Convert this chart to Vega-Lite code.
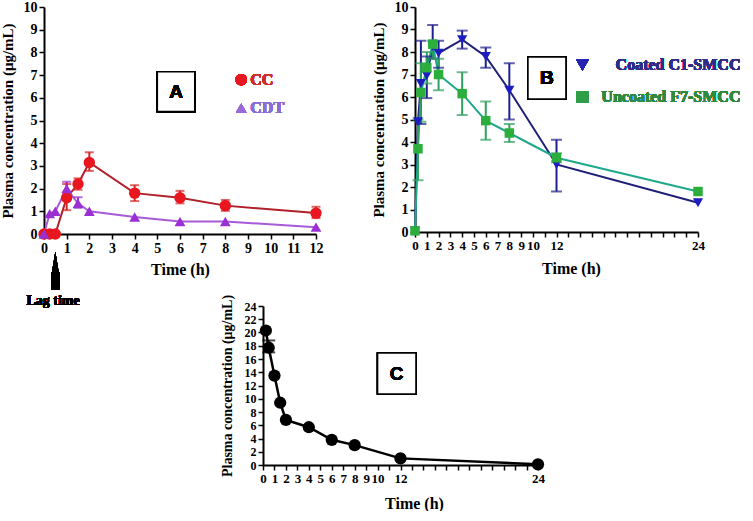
{
  "$schema": "https://vega.github.io/schema/vega-lite/v6.json",
  "background": "white",
  "padding": {"left": 0, "top": 0, "right": 0, "bottom": 0},
  "autosize": {"type": "pad"},
  "config": {
    "view": {"stroke": null},
    "axis": {"domainColor": "black", "domainWidth": 2, "tickColor": "black", "tickWidth": 1.5, "tickSize": 5, "grid": false,
      "labelFont": "Liberation Serif", "labelFontWeight": "bold", "labelFontSize": 14, "labelColor": "black",
      "titleFont": "Liberation Serif", "titleFontWeight": "bold", "titleFontSize": 15, "titleColor": "black",
      "labelOverlap": false, "labelFlush": false, "labelPadding": 2}
  },
  "datasets": {
    "A": [
      {"t": 0, "conc": 0, "series": "CC"},
      {"t": 0.25, "conc": 0, "series": "CC"},
      {"t": 0.5, "conc": 0, "series": "CC"},
      {"t": 1, "conc": 1.6, "lo": 1.05, "hi": 2.2, "series": "CC"},
      {"t": 1.5, "conc": 2.2, "lo": 1.95, "hi": 2.45, "series": "CC"},
      {"t": 2, "conc": 3.15, "lo": 2.78, "hi": 3.6, "series": "CC"},
      {"t": 4, "conc": 1.8, "lo": 1.45, "hi": 2.15, "series": "CC"},
      {"t": 6, "conc": 1.6, "lo": 1.35, "hi": 1.9, "series": "CC"},
      {"t": 8, "conc": 1.25, "lo": 1.02, "hi": 1.5, "series": "CC"},
      {"t": 12, "conc": 0.92, "lo": 0.7, "hi": 1.2, "series": "CC"},
      {"t": 0, "conc": 0, "series": "CDT"},
      {"t": 0.25, "conc": 0.9, "series": "CDT"},
      {"t": 0.5, "conc": 1.0, "series": "CDT"},
      {"t": 1, "conc": 2.0, "lo": 1.75, "hi": 2.3, "series": "CDT"},
      {"t": 1.5, "conc": 1.35, "lo": 1.15, "hi": 1.62, "series": "CDT"},
      {"t": 2, "conc": 1.0, "series": "CDT"},
      {"t": 4, "conc": 0.75, "series": "CDT"},
      {"t": 6, "conc": 0.55, "series": "CDT"},
      {"t": 8, "conc": 0.55, "series": "CDT"},
      {"t": 12, "conc": 0.3, "series": "CDT"}
    ],
    "B": [
      {"t": 0, "conc": 0.05, "series": "Coated C1-SMCC"},
      {"t": 0.25, "conc": 4.9, "series": "Coated C1-SMCC"},
      {"t": 0.5, "conc": 6.6, "lo": 4.8, "hi": 8.5, "series": "Coated C1-SMCC"},
      {"t": 1, "conc": 6.95, "lo": 5.95, "hi": 7.8, "series": "Coated C1-SMCC"},
      {"t": 1.5, "conc": 8.25, "lo": 7.7, "hi": 9.2, "series": "Coated C1-SMCC"},
      {"t": 2, "conc": 7.95, "lo": 7.3, "hi": 8.5, "series": "Coated C1-SMCC"},
      {"t": 4, "conc": 8.55, "lo": 8.15, "hi": 8.95, "series": "Coated C1-SMCC"},
      {"t": 6, "conc": 7.8, "lo": 7.3, "hi": 8.2, "series": "Coated C1-SMCC"},
      {"t": 8, "conc": 6.3, "lo": 5.0, "hi": 7.5, "series": "Coated C1-SMCC"},
      {"t": 12, "conc": 3.0, "lo": 1.8, "hi": 4.1, "series": "Coated C1-SMCC"},
      {"t": 24, "conc": 1.3, "series": "Coated C1-SMCC"},
      {"t": 0, "conc": 0.05, "series": "Uncoated F7-SMCC"},
      {"t": 0.25, "conc": 3.7, "lo": 2.3, "hi": 5.0, "series": "Uncoated F7-SMCC"},
      {"t": 0.5, "conc": 6.2, "lo": 4.9, "hi": 7.5, "series": "Uncoated F7-SMCC"},
      {"t": 1, "conc": 7.3, "lo": 6.6, "hi": 8.0, "series": "Uncoated F7-SMCC"},
      {"t": 1.5, "conc": 8.35, "lo": 7.7, "hi": 8.5, "series": "Uncoated F7-SMCC"},
      {"t": 2, "conc": 7.0, "lo": 6.3, "hi": 7.7, "series": "Uncoated F7-SMCC"},
      {"t": 4, "conc": 6.15, "lo": 5.2, "hi": 7.1, "series": "Uncoated F7-SMCC"},
      {"t": 6, "conc": 4.95, "lo": 4.1, "hi": 5.8, "series": "Uncoated F7-SMCC"},
      {"t": 8, "conc": 4.4, "lo": 4.0, "hi": 4.8, "series": "Uncoated F7-SMCC"},
      {"t": 12, "conc": 3.3, "lo": 3.1, "hi": 3.5, "series": "Uncoated F7-SMCC"},
      {"t": 24, "conc": 1.8, "series": "Uncoated F7-SMCC"}
    ],
    "C": [
      {"t": 0.25, "conc": 20.3},
      {"t": 0.5, "conc": 17.7, "lo": 17.0, "hi": 18.8},
      {"t": 1, "conc": 13.5},
      {"t": 1.5, "conc": 9.4},
      {"t": 2, "conc": 6.8},
      {"t": 4, "conc": 5.7},
      {"t": 6, "conc": 3.8},
      {"t": 8, "conc": 3.0},
      {"t": 12, "conc": 1.0},
      {"t": 24, "conc": 0.1}
    ]
  },
  "bounds": "flush",
  "spacing": 299,
  "vconcat": [
    {
      "bounds": "flush",
      "spacing": 99,
      "hconcat": [
        {
          "width": 272, "height": 227,
          "data": {"name": "A"},
          "resolve": {"scale": {"color": "independent", "shape": "independent"}},
          "encoding": {
            "x": {"field": "t", "type": "quantitative", "scale": {"domain": [0, 12], "nice": false},
              "axis": {"values": [0,1,2,3,4,5,6,7,8,9,10,11,12], "title": "Time (h)", "titleFontSize": 16, "titlePadding": 6}},
            "y": {"field": "conc", "type": "quantitative", "scale": {"domain": [0, 10], "nice": false},
              "axis": {"values": [0,1,2,3,4,5,6,7,8,9,10], "title": "Plasma concentration (μg/mL)", "titlePadding": 8}}
          },
          "layer": [
            {"mark": {"type": "line", "strokeWidth": 2},
             "encoding": {"color": {"field": "series", "type": "nominal", "scale": {"domain": ["CC", "CDT"], "range": ["#b0202a", "#a85ad8"]}, "legend": null}}},
            {"transform": [{"filter": "datum.lo != null"}],
             "mark": {"type": "rule", "strokeWidth": 2},
             "encoding": {"y": {"field": "lo", "type": "quantitative"}, "y2": {"field": "hi"},
               "color": {"field": "series", "type": "nominal", "scale": {"domain": ["CC", "CDT"], "range": ["#d42424", "#9a32d0"]}, "legend": null}}},
            {"transform": [{"filter": "datum.lo != null"}, {"fold": ["lo", "hi"], "as": ["k", "v"]}],
             "mark": {"type": "tick", "orient": "horizontal", "size": 9, "thickness": 2},
             "encoding": {"y": {"field": "v", "type": "quantitative"},
               "color": {"field": "series", "type": "nominal", "scale": {"domain": ["CC", "CDT"], "range": ["#d42424", "#9a32d0"]}, "legend": null}}},
            {"mark": {"type": "point", "filled": true, "opacity": 1},
             "encoding": {
               "color": {"field": "series", "type": "nominal", "scale": {"domain": ["CC", "CDT"], "range": ["#e8161e", "#9a30d4"]}, "legend": null},
               "shape": {"field": "series", "type": "nominal", "scale": {"domain": ["CC", "CDT"], "range": ["circle", "triangle-up"]}, "legend": null},
               "size": {"field": "series", "type": "nominal", "scale": {"domain": ["CC", "CDT"], "range": [130, 90]}, "legend": null}}},
            {"mark": {"type": "rect", "fill": "white", "stroke": "black", "strokeWidth": 1.5},
             "encoding": {"x": {"datum": 5.0, "type": "quantitative"}, "x2": {"datum": 6.65}, "y": {"datum": 5.4, "type": "quantitative"}, "y2": {"datum": 7.15}}},
            {"mark": {"type": "text", "text": "A", "font": "Liberation Sans", "fontWeight": "bold", "fontSize": 19, "color": "black", "baseline": "middle", "align": "center"},
             "encoding": {"x": {"datum": 5.825, "type": "quantitative"}, "y": {"datum": 6.27, "type": "quantitative"}}},
            {"mark": {"type": "point", "shape": "circle", "filled": true, "opacity": 1, "color": "#e8161e", "size": 130},
             "encoding": {"x": {"datum": 8.7, "type": "quantitative"}, "y": {"datum": 6.8, "type": "quantitative"}}},
            {"mark": {"type": "point", "shape": "triangle-up", "filled": true, "opacity": 1, "color": "#9a6ad8", "size": 110},
             "encoding": {"x": {"datum": 8.7, "type": "quantitative"}, "y": {"datum": 5.55, "type": "quantitative"}}},
            {"mark": {"type": "text", "text": "CC", "font": "Liberation Serif", "fontWeight": "bold", "fontSize": 16, "color": "#d02a2a", "baseline": "middle", "align": "left"},
             "encoding": {"x": {"datum": 9.1, "type": "quantitative"}, "y": {"datum": 6.8, "type": "quantitative"}}},
            {"mark": {"type": "text", "text": "CDT", "font": "Liberation Serif", "fontWeight": "bold", "fontSize": 16, "color": "#8a6ed4", "baseline": "middle", "align": "left"},
             "encoding": {"x": {"datum": 9.1, "type": "quantitative"}, "y": {"datum": 5.55, "type": "quantitative"}}},
            {"mark": {"type": "rule", "strokeWidth": 8, "color": "black"},
             "encoding": {"x": {"datum": 0.5, "type": "quantitative"}, "y": {"datum": -1.7, "type": "quantitative"}, "y2": {"datum": -2.45}}},
            {"mark": {"type": "point", "shape": "M-0.33,1L0,-1L0.33,1Z", "filled": true, "opacity": 1, "color": "black", "size": 529},
             "encoding": {"x": {"datum": 0.5, "type": "quantitative"}, "y": {"datum": -1.3, "type": "quantitative"}}},
            {"mark": {"type": "text", "text": "Lag time", "font": "Liberation Serif", "fontWeight": "bold", "fontSize": 14, "color": "black", "baseline": "middle", "align": "center"},
             "encoding": {"x": {"datum": 0.4, "type": "quantitative"}, "y": {"datum": -2.95, "type": "quantitative"}}}
          ]
        },
        {
          "width": 283, "height": 225,
          "data": {"name": "B"},
          "resolve": {"scale": {"color": "independent", "shape": "independent"}},
          "encoding": {
            "x": {"field": "t", "type": "quantitative", "scale": {"domain": [0, 24], "nice": false},
              "axis": {"values": [0,1,2,3,4,5,6,7,8,9,10,11,12,13,14,15,16,17,18,19,20,21,22,23,24],
                "labelExpr": "(datum.value <= 10 || datum.value == 12 || datum.value == 24) ? datum.label : ''",
                "labelFontSize": 13, "title": "Time (h)", "titleFontSize": 16, "titlePadding": 8, "titleX": 156}},
            "y": {"field": "conc", "type": "quantitative", "scale": {"domain": [0, 10], "nice": false},
              "axis": {"values": [0,1,2,3,4,5,6,7,8,9,10], "title": "Plasma concentration (μg/mL)", "titlePadding": 8}}
          },
          "layer": [
            {"mark": {"type": "line", "strokeWidth": 2},
             "encoding": {"color": {"field": "series", "type": "nominal", "scale": {"domain": ["Coated C1-SMCC", "Uncoated F7-SMCC"], "range": ["#1f1f7a", "#1fa88a"]}, "legend": null}}},
            {"transform": [{"filter": "datum.lo != null"}],
             "mark": {"type": "rule", "strokeWidth": 2},
             "encoding": {"y": {"field": "lo", "type": "quantitative"}, "y2": {"field": "hi"},
               "color": {"field": "series", "type": "nominal", "scale": {"domain": ["Coated C1-SMCC", "Uncoated F7-SMCC"], "range": ["#1f2090", "#2ea060"]}, "legend": null}}},
            {"transform": [{"filter": "datum.lo != null"}, {"fold": ["lo", "hi"], "as": ["k", "v"]}],
             "mark": {"type": "tick", "orient": "horizontal", "size": 11, "thickness": 2},
             "encoding": {"y": {"field": "v", "type": "quantitative"},
               "color": {"field": "series", "type": "nominal", "scale": {"domain": ["Coated C1-SMCC", "Uncoated F7-SMCC"], "range": ["#1f2090", "#2ea060"]}, "legend": null}}},
            {"mark": {"type": "point", "filled": true, "opacity": 1},
             "encoding": {
               "color": {"field": "series", "type": "nominal", "scale": {"domain": ["Coated C1-SMCC", "Uncoated F7-SMCC"], "range": ["#1c1cc0", "#2cae3c"]}, "legend": null},
               "shape": {"field": "series", "type": "nominal", "scale": {"domain": ["Coated C1-SMCC", "Uncoated F7-SMCC"], "range": ["triangle-down", "square"]}, "legend": null},
               "size": {"field": "series", "type": "nominal", "scale": {"domain": ["Coated C1-SMCC", "Uncoated F7-SMCC"], "range": [110, 90]}, "legend": null}}},
            {"mark": {"type": "rect", "fill": "white", "stroke": "black", "strokeWidth": 1.5},
             "encoding": {"x": {"datum": 9.58, "type": "quantitative"}, "x2": {"datum": 12.8}, "y": {"datum": 5.91, "type": "quantitative"}, "y2": {"datum": 7.78}}},
            {"mark": {"type": "text", "text": "B", "font": "Liberation Sans", "fontWeight": "bold", "fontSize": 19, "color": "black", "baseline": "middle", "align": "center"},
             "encoding": {"x": {"datum": 11.19, "type": "quantitative"}, "y": {"datum": 6.85, "type": "quantitative"}}},
            {"mark": {"type": "point", "shape": "triangle-down", "filled": true, "opacity": 1, "color": "#2424b0", "size": 160},
             "encoding": {"x": {"datum": 14.2, "type": "quantitative"}, "y": {"datum": 7.42, "type": "quantitative"}}},
            {"mark": {"type": "point", "shape": "square", "filled": true, "opacity": 1, "color": "#2e9e48", "size": 130},
             "encoding": {"x": {"datum": 14.2, "type": "quantitative"}, "y": {"datum": 6.0, "type": "quantitative"}}},
            {"mark": {"type": "text", "text": "Coated C1-SMCC", "font": "Liberation Serif", "fontWeight": "bold", "fontSize": 16, "color": "#2e2e88", "baseline": "middle", "align": "right"},
             "encoding": {"x": {"datum": 27.6, "type": "quantitative"}, "y": {"datum": 7.42, "type": "quantitative"}}},
            {"mark": {"type": "text", "text": "Uncoated F7-SMCC", "font": "Liberation Serif", "fontWeight": "bold", "fontSize": 16, "color": "#2e8a3e", "baseline": "middle", "align": "right"},
             "encoding": {"x": {"datum": 27.6, "type": "quantitative"}, "y": {"datum": 6.0, "type": "quantitative"}}}
          ]
        }
      ]
    },
    {
      "bounds": "flush",
      "spacing": 0,
      "hconcat": [
        {"width": 219, "height": 10, "data": {"values": []}, "mark": "point", "encoding": {}},
        {
          "width": 275, "height": 159,
          "data": {"name": "C"},
          "encoding": {
            "x": {"field": "t", "type": "quantitative", "scale": {"domain": [0, 24], "nice": false},
              "axis": {"values": [0,1,2,3,4,5,6,7,8,9,10,11,12,13,14,15,16,17,18,19,20,21,22,23,24],
                "labelExpr": "(datum.value <= 10 || datum.value == 12 || datum.value == 24) ? datum.label : ''",
                "labelFontSize": 13, "title": "Time (h)", "titleFontSize": 16, "titlePadding": 10, "titleX": 151}},
            "y": {"field": "conc", "type": "quantitative", "scale": {"domain": [0, 24], "nice": false},
              "axis": {"values": [0,2,4,6,8,10,12,14,16,18,20,22,24], "labelFontSize": 12, "title": "Plasma concentration (μg/mL)", "titleFontSize": 14, "titlePadding": 10}}
          },
          "layer": [
            {"mark": {"type": "line", "strokeWidth": 2.5, "color": "black"}},
            {"transform": [{"filter": "datum.lo != null"}],
             "mark": {"type": "rule", "strokeWidth": 2, "color": "black"},
             "encoding": {"y": {"field": "lo", "type": "quantitative"}, "y2": {"field": "hi"}}},
            {"transform": [{"filter": "datum.lo != null"}, {"fold": ["lo", "hi"], "as": ["k", "v"]}],
             "mark": {"type": "tick", "orient": "horizontal", "size": 13, "thickness": 2, "color": "black"},
             "encoding": {"y": {"field": "v", "type": "quantitative"}}},
            {"mark": {"type": "point", "shape": "circle", "filled": true, "opacity": 1, "color": "black", "size": 150}},
            {"mark": {"type": "rect", "fill": "white", "stroke": "black", "strokeWidth": 1.5},
             "encoding": {"x": {"datum": 10.0, "type": "quantitative"}, "x2": {"datum": 13.35}, "y": {"datum": 10.7, "type": "quantitative"}, "y2": {"datum": 16.9}}},
            {"mark": {"type": "text", "text": "C", "font": "Liberation Sans", "fontWeight": "bold", "fontSize": 19, "color": "black", "baseline": "middle", "align": "center"},
             "encoding": {"x": {"datum": 11.67, "type": "quantitative"}, "y": {"datum": 13.8, "type": "quantitative"}}}
          ]
        }
      ]
    }
  ]
}
